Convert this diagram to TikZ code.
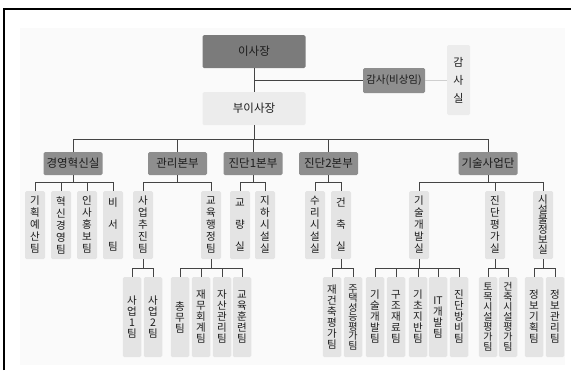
\documentclass[tikz,border=0pt]{standalone}
\usepackage{fontspec}
\setmainfont{Noto Sans CJK KR}
\definecolor{dkA}{HTML}{7B7B7B}
\definecolor{dkB}{HTML}{8E8E8E}
\definecolor{ltA}{HTML}{E4E4E4}
\definecolor{ltB}{HTML}{ECECEC}
\definecolor{txt}{HTML}{1C1C1C}
\definecolor{lncol}{HTML}{444444}
\definecolor{lnlt}{HTML}{CFCFCF}
\definecolor{bgc}{HTML}{FAFAFA}
\begin{document}
\begin{tikzpicture}[x=1pt,y=-1pt,
  every node/.style={inner sep=0pt, outer sep=0pt, align=center, text=txt},
  topbox/.style={fill=dkA, rounded corners=1.5pt, minimum width=103pt, minimum height=33pt, font=\fontsize{11.5}{13}\selectfont},
  vpbox/.style={fill=ltB, rounded corners=1.5pt, minimum width=103pt, minimum height=33pt, font=\fontsize{11.5}{13}\selectfont},
  audbox/.style={fill=dkB, rounded corners=1.5pt, minimum width=62pt, minimum height=25pt, font=\fontsize{10.5}{12}\selectfont},
  l2box/.style={fill=dkB, rounded corners=1.5pt, minimum width=59pt, minimum height=23pt, font=\fontsize{11.5}{13}\selectfont},
  l3box/.style={fill=ltA, rounded corners=1.5pt, minimum width=20pt, minimum height=68pt, font=\fontsize{10.5}{12}\selectfont},
  l4box/.style={fill=ltA, rounded corners=1.5pt, minimum width=18.5pt, minimum height=80pt, font=\fontsize{10.5}{11}\selectfont},
  ln/.style={draw=lncol, line width=0.9pt},
  lnl/.style={draw=lnlt, line width=0.9pt}]
\useasboundingbox (0,0) rectangle (571,370);
\fill[bgc] (20,28) rectangle (565,365);
\draw[line width=1.3pt] (4,370) -- (4,9) -- (571,9);

% level 1
\node[topbox] (ceo) at (254,51.5) {이사장};
\node[vpbox] (vp) at (254,108.5) {부이사장};
\node[audbox] (aud) at (394,80.5) {감사(비상임)};
\node[fill=ltB, rounded corners=1.5pt, minimum width=23pt, minimum height=70pt, font=\fontsize{11}{18}\selectfont] (audr) at (458.5,80) {감\\사\\실};

% level 2
\node[l2box] (gy) at (73,163.5) {경영혁신실};
\node[l2box] (gl) at (177.5,163.5) {관리본부};
\node[l2box] (ja) at (253,163.5) {진단1본부};
\node[l2box] (jb) at (328.5,163.5) {진단2본부};
\node[l2box] (gs) at (488,163.5) {기술사업단};

% level 3
\node[l3box] (a1) at (35,225) {기\\획\\예\\산\\팀};
\node[l3box] (a2) at (61,225) {혁\\신\\경\\영\\팀};
\node[l3box] (a3) at (87,225) {인\\사\\홍\\보\\팀};
\node[l3box, font=\fontsize{10.5}{22}\selectfont] (a4) at (113,225) {비\\서\\팀};
\node[l3box] (b1) at (143,225) {사\\업\\추\\진\\팀};
\node[l3box] (b2) at (211,225) {교\\육\\행\\정\\팀};
\node[l3box, font=\fontsize{10.5}{22}\selectfont] (c1) at (240,225) {교\\량\\실};
\node[l3box] (c2) at (265,225) {지\\하\\시\\설\\실};
\node[l3box] (d1) at (315,225) {수\\리\\시\\설\\실};
\node[l3box, font=\fontsize{10.5}{22}\selectfont] (d2) at (341,225) {건\\축\\실};
\node[l3box] (e1) at (419,225) {기\\술\\개\\발\\실};
\node[l3box] (e2) at (495,225) {진\\단\\평\\가\\실};
\node[l3box, font=\fontsize{10.5}{10}\selectfont] (e3) at (543,225) {시\\설\\물\\정\\보\\실};

% level 4
\node[l4box] (b11) at (132,317) {사\\업\\1\\팀};
\node[l4box] (b12) at (153,317) {사\\업\\2\\팀};
\node[l4box] (b21) at (180,317) {총\\무\\팀};
\node[l4box] (b22) at (201,317) {재\\무\\회\\계\\팀};
\node[l4box] (b23) at (222,317) {자\\산\\관\\리\\팀};
\node[l4box] (b24) at (242,317) {교\\육\\훈\\련\\팀};
\node[l4box] (d21) at (332,317) {재\\건\\축\\평\\가\\팀};
\node[l4box, font=\fontsize{10}{9.5}\selectfont] (d22) at (353,317) {주\\택\\성\\능\\평\\가\\팀};
\node[l4box] (e11) at (375,317) {기\\술\\개\\발\\팀};
\node[l4box] (e12) at (396,317) {구\\조\\재\\료\\팀};
\node[l4box] (e13) at (418,317) {기\\초\\지\\반\\팀};
\node[l4box] (e14) at (438,317) {IT\\개\\발\\팀};
\node[l4box] (e15) at (459,317) {진\\단\\방\\비\\팀};
\node[l4box, font=\fontsize{10}{10}\selectfont] (e21) at (488,317) {토\\목\\시\\설\\평\\가\\팀};
\node[l4box, font=\fontsize{10}{10}\selectfont] (e22) at (508,317) {건\\축\\시\\설\\평\\가\\팀};
\node[l4box] (e31) at (534,317) {정\\보\\기\\획\\팀};
\node[l4box] (e32) at (555,317) {정\\보\\관\\리\\팀};

% connectors
\draw[ln] (ceo.south) -- (vp.north);
\draw[ln] (aud.west) -- (aud.west -| ceo.south);
\draw[lnl] (aud.east) -- (aud.east -| audr.west);
\foreach \c in {gy,gl,ja,jb,gs}
  \draw[ln] (vp.south) -- ++(0,14) -| (\c.north);
\foreach \c in {a1,a2,a3,a4}
  \draw[ln] (gy.south) -- ++(0,7) -| (\c.north);
\foreach \c in {b1,b2}
  \draw[ln] (gl.south) -- ++(0,7) -| (\c.north);
\foreach \c in {c1,c2}
  \draw[ln] (ja.south) -- ++(0,7) -| (\c.north);
\foreach \c in {d1,d2}
  \draw[ln] (jb.south) -- ++(0,7) -| (\c.north);
\foreach \c in {e1,e2,e3}
  \draw[ln] (gs.south) -- ++(0,7) -| (\c.north);
\foreach \c in {b11,b12}
  \draw[ln] (b1.south) -- ++(0,9) -| (\c.north);
\foreach \c in {b21,b22,b23,b24}
  \draw[ln] (b2.south) -- ++(0,9) -| (\c.north);
\foreach \c in {d21,d22}
  \draw[ln] (d2.south) -- ++(0,9) -| (\c.north);
\foreach \c in {e11,e12,e13,e14,e15}
  \draw[ln] (e1.south) -- ++(0,9) -| (\c.north);
\foreach \c in {e21,e22}
  \draw[ln] (e2.south) -- ++(0,9) -| (\c.north);
\foreach \c in {e31,e32}
  \draw[ln] (e3.south) -- ++(0,9) -| (\c.north);
\end{tikzpicture}
\end{document}
